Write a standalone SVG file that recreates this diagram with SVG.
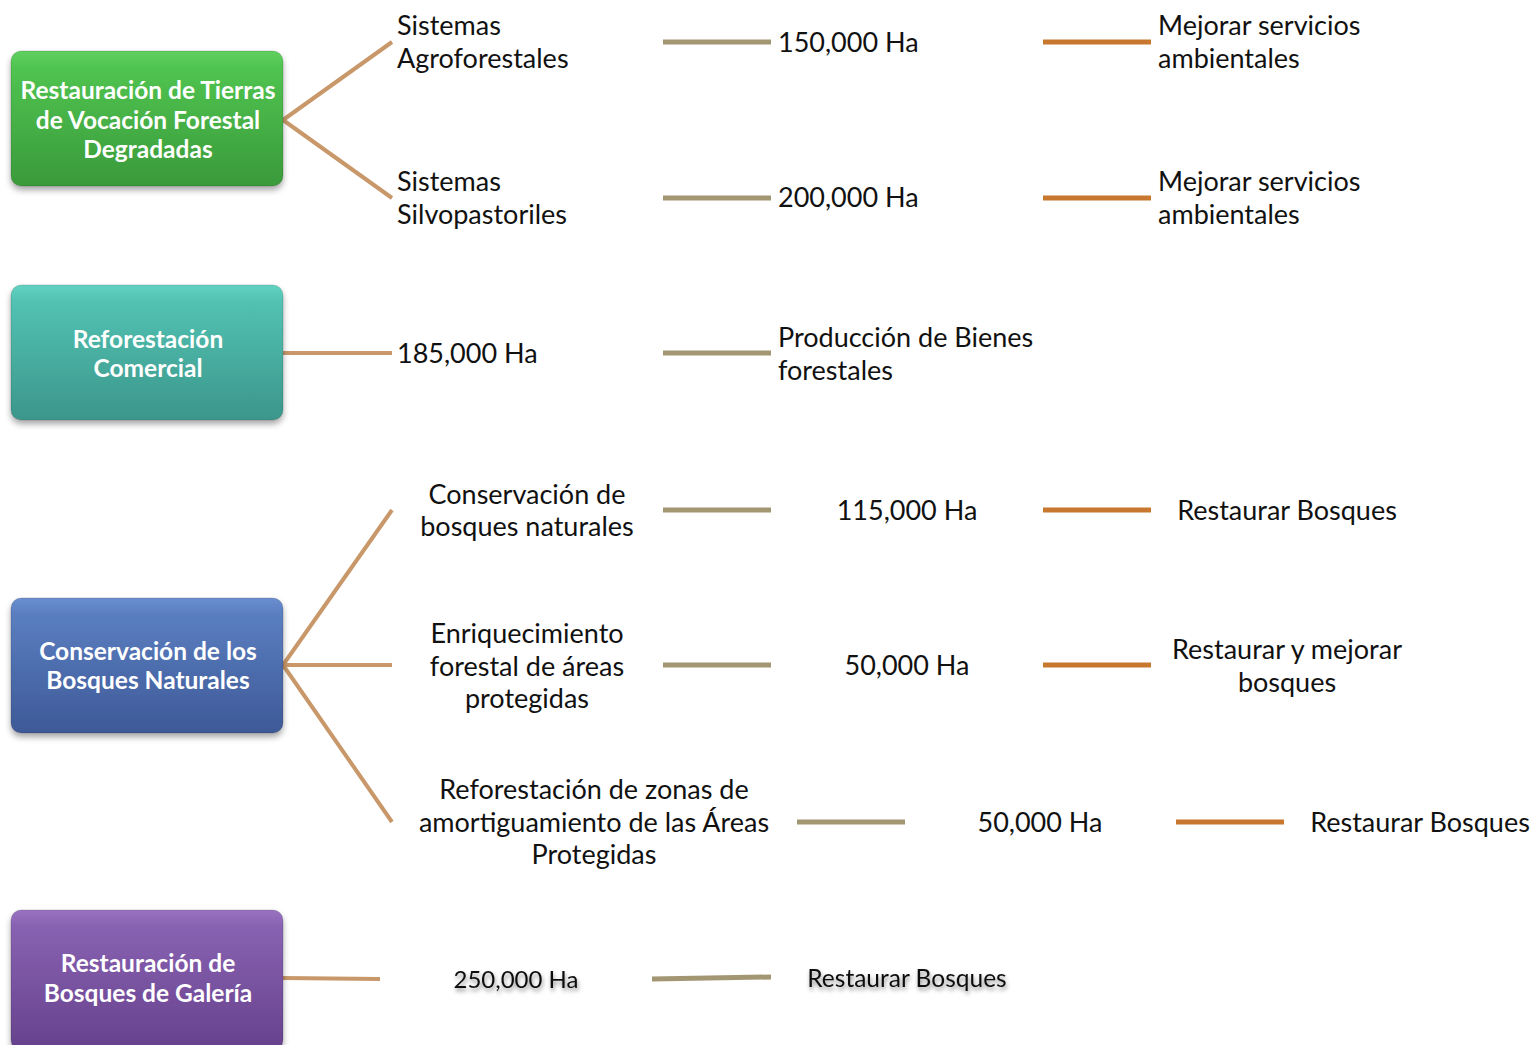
<svg xmlns="http://www.w3.org/2000/svg" width="1535" height="1045" viewBox="0 0 1535 1045">
<defs>
<linearGradient id="gGreen" x1="0" y1="0" x2="0" y2="1"><stop offset="0" stop-color="#5fd05f"/><stop offset="0.12" stop-color="#50c450"/><stop offset="1" stop-color="#3a9a3a"/></linearGradient>
<linearGradient id="gTeal" x1="0" y1="0" x2="0" y2="1"><stop offset="0" stop-color="#62d2c2"/><stop offset="0.12" stop-color="#52c2b2"/><stop offset="1" stop-color="#3b968b"/></linearGradient>
<linearGradient id="gBlue" x1="0" y1="0" x2="0" y2="1"><stop offset="0" stop-color="#6a8ed0"/><stop offset="0.12" stop-color="#5a7ec0"/><stop offset="1" stop-color="#3e5997"/></linearGradient>
<linearGradient id="gPurple" x1="0" y1="0" x2="0" y2="1"><stop offset="0" stop-color="#9a72c2"/><stop offset="0.12" stop-color="#8862b2"/><stop offset="1" stop-color="#66418c"/></linearGradient>
<filter id="sh" x="-10%" y="-10%" width="125%" height="130%"><feDropShadow dx="0" dy="4" stdDeviation="3" flood-color="#000" flood-opacity="0.35"/></filter>
<filter id="tsh" x="-10%" y="-30%" width="120%" height="180%"><feDropShadow dx="1" dy="3" stdDeviation="2" flood-color="#000" flood-opacity="0.45"/></filter>
</defs>
<style>
.box{stroke:#00000022;stroke-width:1;filter:url(#sh)}
.bt{font-family:Lato,"Open Sans","Liberation Sans",sans-serif;font-weight:bold;font-size:24.5px;fill:#fff;text-anchor:middle}
.t{font-family:Lato,"Open Sans","Liberation Sans",sans-serif;font-size:27px;fill:#111}
.c{text-anchor:middle}
.tan{stroke:#c8986a;stroke-width:4;fill:none}
.kh{stroke:#a39672;stroke-width:5;fill:none}
.or{stroke:#c8782e;stroke-width:5;fill:none}
</style>
<g id="connectors">
<path class="tan" d="M283 120 L392 42 M283 120 L392 198"/>
<path class="kh" d="M663 42 H771 M663 198 H771"/>
<path class="or" d="M1043 42 H1151 M1043 198 H1151"/>
<path class="tan" d="M283 353 H392"/>
<path class="kh" d="M663 353 H771"/>
<path class="tan" d="M283 665 L392 510 M283 665 H392 M283 665 L392 822"/>
<path class="kh" d="M663 510 H771 M663 665 H771 M797 822 H905"/>
<path class="or" d="M1043 510 H1151 M1043 665 H1151 M1176 822 H1284"/>
<path class="tan" d="M283 978 L380 979"/>
<path class="kh" d="M652 979 L771 977"/>
</g>
<g id="n1"><rect class="box" x="11" y="51" width="272" height="135" rx="10" fill="url(#gGreen)"/>
<text class="bt" x="148" y="99">Restauración de Tierras</text><text class="bt" x="148" y="129">de Vocación Forestal</text><text class="bt" x="148" y="158">Degradadas</text></g>
<g id="n2"><rect class="box" x="11" y="285" width="272" height="135" rx="10" fill="url(#gTeal)"/>
<text class="bt" x="148" y="348">Reforestación</text><text class="bt" x="148" y="377">Comercial</text></g>
<g id="n3"><rect class="box" x="11" y="598" width="272" height="135" rx="10" fill="url(#gBlue)"/>
<text class="bt" x="148" y="660">Conservación de los</text><text class="bt" x="148" y="689">Bosques Naturales</text></g>
<g id="n4"><rect class="box" x="11" y="910" width="272" height="140" rx="10" fill="url(#gPurple)"/>
<text class="bt" x="148" y="972">Restauración de</text><text class="bt" x="148" y="1002">Bosques de Galería</text></g>
<g id="l1a"><text class="t" x="397" y="35">Sistemas</text><text class="t" x="397" y="68">Agroforestales</text></g>
<g id="l1b"><text class="t" x="778" y="52">150,000 Ha</text></g>
<g id="l1c"><text class="t" x="1158" y="35">Mejorar servicios</text><text class="t" x="1158" y="68">ambientales</text></g>
<g id="l2a"><text class="t" x="397" y="191">Sistemas</text><text class="t" x="397" y="224">Silvopastoriles</text></g>
<g id="l2b"><text class="t" x="778" y="207">200,000 Ha</text></g>
<g id="l2c"><text class="t" x="1158" y="191">Mejorar servicios</text><text class="t" x="1158" y="224">ambientales</text></g>
<g id="l3a"><text class="t" x="397" y="363">185,000 Ha</text></g>
<g id="l3b"><text class="t" x="778" y="347">Producción de Bienes</text><text class="t" x="778" y="380">forestales</text></g>
<g id="l4a"><text class="t c" x="527" y="504">Conservación de</text><text class="t c" x="527" y="536">bosques naturales</text></g>
<g id="l4b"><text class="t c" x="907" y="520">115,000 Ha</text></g>
<g id="l4c"><text class="t c" x="1287" y="520">Restaurar Bosques</text></g>
<g id="l5a"><text class="t c" x="527" y="643">Enriquecimiento</text><text class="t c" x="527" y="676">forestal de áreas</text><text class="t c" x="527" y="708">protegidas</text></g>
<g id="l5b"><text class="t c" x="907" y="675">50,000 Ha</text></g>
<g id="l5c"><text class="t c" x="1287" y="659">Restaurar y mejorar</text><text class="t c" x="1287" y="692">bosques</text></g>
<g id="l6a"><text class="t c" x="594" y="799">Reforestación de zonas de</text><text class="t c" x="594" y="832">amortiguamiento de las Áreas</text><text class="t c" x="594" y="864">Protegidas</text></g>
<g id="l6b"><text class="t c" x="1040" y="832">50,000 Ha</text></g>
<g id="l6c"><text class="t c" x="1420" y="832">Restaurar Bosques</text></g>
<g id="l7a"><text class="t c" x="516" y="988" style="font-size:24px;filter:url(#tsh)">250,000 Ha</text></g>
<g id="l7b"><text class="t c" x="907" y="987" style="font-size:24.5px;filter:url(#tsh)">Restaurar Bosques</text></g>
</svg>
